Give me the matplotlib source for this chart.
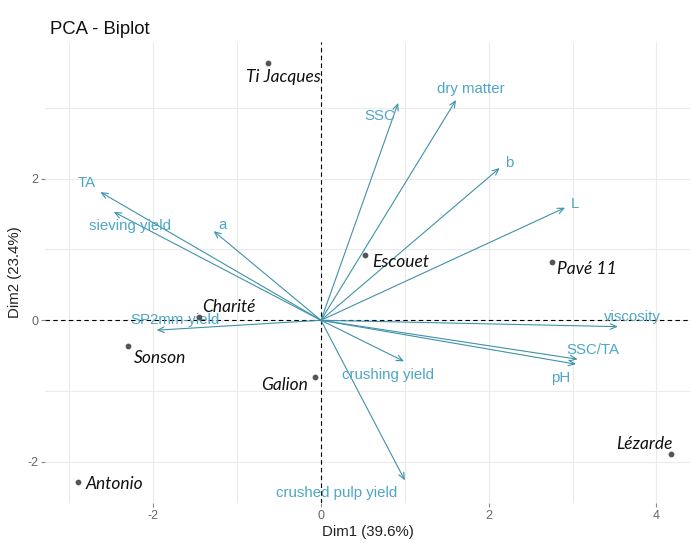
import matplotlib.pyplot as plt
import numpy as np

plt.rcParams['axes.unicode_minus'] = False

# individuals (PCA scores)
ind_names = ['Ti Jacques', 'Escouet', 'Pavé 11', 'Charité', 'Sonson',
             'Galion', 'Antonio', 'Lézarde']
ind_x = [-0.63, 0.52, 2.75, -1.45, -2.30, -0.07, -2.90, 4.17]
ind_y = [3.63, 0.92, 0.83, 0.04, -0.37, -0.80, -2.29, -1.89]

# variables (scaled loadings)
var_names = ['TA', 'sieving yield', 'a', 'SSC', 'dry matter', 'b', 'L',
             'viscosity', 'SSC/TA', 'pH', 'crushing yield',
             'crushed pulp yield', 'SP2mm-yield']
var_x = [-2.63, -2.47, -1.28, 0.92, 1.61, 2.13, 2.91, 3.54, 3.06, 3.04,
         0.99, 1.00, -1.96]
var_y = [1.81, 1.53, 1.26, 3.07, 3.11, 2.15, 1.59, -0.09, -0.55, -0.62,
         -0.58, -2.26, -0.14]

# label offsets in pixels (layout only)
ind_off = {'Ti Jacques': (15, -14), 'Escouet': (36, -7), 'Pavé 11': (35, -7),
           'Charité': (30, 10), 'Sonson': (32, -12), 'Galion': (-31, -8),
           'Antonio': (37, -2), 'Lézarde': (-26, 10)}
var_off = {'TA': (-14, 9), 'sieving yield': (16, -14), 'a': (9, 6),
           'SSC': (-18, -13), 'dry matter': (15, 11), 'b': (10, 5),
           'L': (10, 4), 'viscosity': (15, 10), 'SSC/TA': (15, 9),
           'pH': (-15, -14), 'crushing yield': (-16, -14),
           'crushed pulp yield': (-68, -13), 'SP2mm-yield': (18, 10)}

arrow_col = '#3f92ab'
text_col = '#4ea6c6'

fig = plt.figure(figsize=(6.93, 5.43), dpi=100)
ax = fig.add_axes([0.065, 0.0737, 0.9307, 0.849])
ax.set_xlim(-3.29, 4.40)
ax.set_ylim(-2.58, 3.93)

for v in np.arange(-3, 5):
    ax.axvline(v, color='#ebebeb', lw=0.8, zorder=0)
for v in np.arange(-2, 4):
    ax.axhline(v, color='#ebebeb', lw=0.8, zorder=0)

ax.axhline(0, color='black', lw=0.8, ls=(0, (4, 3)), zorder=1)
ax.axvline(0, color='black', lw=0.8, ls=(0, (4, 3)), zorder=1)

for s in ax.spines.values():
    s.set_visible(False)

# variable arrows
for name, x, y in zip(var_names, var_x, var_y):
    ax.annotate('', xy=(x, y), xytext=(0, 0),
                arrowprops=dict(arrowstyle='->,head_length=0.45,head_width=0.2',
                                color=arrow_col, lw=0.8,
                                shrinkA=0, shrinkB=0), zorder=2)
    dx, dy = var_off[name]
    ax.annotate(name, xy=(x, y), xytext=(dx, dy), textcoords='offset pixels',
                ha='center', va='center', color=text_col, fontsize=10.8,
                family='Liberation Sans', zorder=3)

# individuals
ax.scatter(ind_x, ind_y, s=10, color='#555555', zorder=4)
for name, x, y in zip(ind_names, ind_x, ind_y):
    dx, dy = ind_off[name]
    ax.annotate(name, xy=(x, y), xytext=(dx, dy), textcoords='offset pixels',
                ha='center', va='center', color='#111111', fontsize=12.5,
                family='Lato', style='italic', zorder=5)

ax.set_xticks([-2, 0, 2, 4])
ax.set_yticks([-2, 0, 2])
ax.tick_params(colors='#888888', labelcolor='#666666', labelsize=9,
               length=3, width=0.8, pad=2)
for lab in ax.get_xticklabels() + ax.get_yticklabels():
    lab.set_family('Liberation Sans')

ax.set_xlabel('Dim1 (39.6%)', fontsize=10.8, family='Liberation Sans',
              color='#222222', labelpad=2)
ax.set_ylabel('Dim2 (23.4%)', fontsize=10.8, family='Liberation Sans',
              color='#222222', labelpad=4)
fig.text(0.072, 0.945, 'PCA - Biplot', fontsize=13.3, family='Liberation Sans',
         color='#111111', va='center')

fig.savefig('out.png', dpi=100)
